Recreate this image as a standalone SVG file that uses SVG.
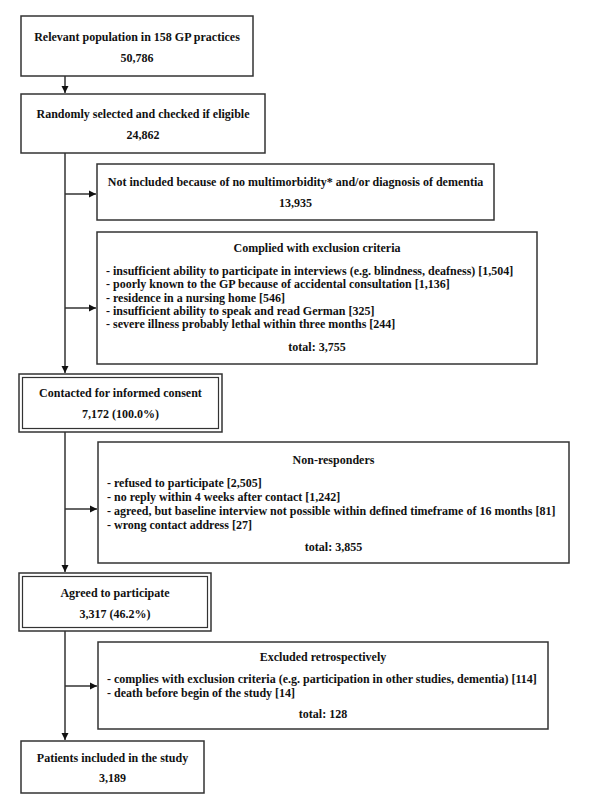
<svg xmlns="http://www.w3.org/2000/svg" width="600" height="804" viewBox="0 0 600 804">
<style>
  .box { fill: #fff; stroke: #333; stroke-width: 1.5; }
  .inner { fill: none; stroke: #333; stroke-width: 1.2; }
  .t { font-family: "Liberation Serif", "Times New Roman", serif; font-weight: bold; font-size: 12px; fill: #111; }
  .c { text-anchor: middle; }
  .edge { fill: none; stroke: #333; stroke-width: 1.5; }
</style>
<defs>
  <marker id="ah" markerWidth="8" markerHeight="8" refX="7" refY="4" orient="auto" markerUnits="userSpaceOnUse">
    <path d="M0,0.5 L7,4 L0,7.5 Z" fill="#111"/>
  </marker>
</defs>
<rect width="600" height="804" fill="#fff"/>

<g id="connectors">
  <line class="edge" x1="65" y1="76" x2="65" y2="93" marker-end="url(#ah)"/>
  <line class="edge" x1="65" y1="153" x2="65" y2="373" marker-end="url(#ah)"/>
  <line class="edge" x1="65" y1="194" x2="96" y2="194" marker-end="url(#ah)"/>
  <line class="edge" x1="65" y1="308" x2="96" y2="308" marker-end="url(#ah)"/>
  <line class="edge" x1="65" y1="432" x2="65" y2="572" marker-end="url(#ah)"/>
  <line class="edge" x1="65" y1="509" x2="97" y2="509" marker-end="url(#ah)"/>
  <line class="edge" x1="65" y1="631" x2="65" y2="740" marker-end="url(#ah)"/>
  <line class="edge" x1="65" y1="686" x2="97" y2="686" marker-end="url(#ah)"/>
</g>

<g id="n1">
  <rect class="box" x="21" y="16" width="232" height="60"/>
  <text class="t c" x="137" y="41">Relevant population in 158 GP practices</text>
  <text class="t c" x="137" y="62">50,786</text>
</g>

<g id="n2">
  <rect class="box" x="21" y="94" width="244" height="59"/>
  <text class="t c" x="143" y="118">Randomly selected and checked if eligible</text>
  <text class="t c" x="143" y="139">24,862</text>
</g>

<g id="n3">
  <rect class="box" x="97" y="164" width="397" height="56"/>
  <text class="t c" x="295.5" y="186">Not included because of no multimorbidity* and/or diagnosis of dementia</text>
  <text class="t c" x="295.5" y="207">13,935</text>
</g>

<g id="n4">
  <rect class="box" x="97" y="232" width="440" height="132"/>
  <text class="t c" x="317" y="252">Complied with exclusion criteria</text>
  <text class="t" x="106" y="275">- insufficient ability to participate in interviews (e.g. blindness, deafness) [1,504]</text>
  <text class="t" x="106" y="288">- poorly known to the GP because of accidental consultation [1,136]</text>
  <text class="t" x="106" y="302">- residence in a nursing home [546]</text>
  <text class="t" x="106" y="315">- insufficient ability to speak and read German [325]</text>
  <text class="t" x="106" y="328">- severe illness probably lethal within three months [244]</text>
  <text class="t c" x="317" y="351">total: 3,755</text>
</g>

<g id="n5">
  <rect class="box" x="19" y="374" width="203" height="58"/>
  <rect class="inner" x="22.5" y="377.5" width="196" height="51"/>
  <text class="t c" x="120.5" y="397">Contacted for informed consent</text>
  <text class="t c" x="120.5" y="418">7,172 (100.0%)</text>
</g>

<g id="n6">
  <rect class="box" x="98" y="442" width="471" height="121"/>
  <text class="t c" x="333.5" y="464">Non-responders</text>
  <text class="t" x="107" y="487">- refused to participate [2,505]</text>
  <text class="t" x="107" y="501">- no reply within 4 weeks after contact [1,242]</text>
  <text class="t" x="107" y="515">- agreed, but baseline interview not possible within defined timeframe of 16 months [81]</text>
  <text class="t" x="107" y="529">- wrong contact address [27]</text>
  <text class="t c" x="333.5" y="551">total: 3,855</text>
</g>

<g id="n7">
  <rect class="box" x="19" y="573" width="192" height="58"/>
  <rect class="inner" x="22.5" y="576.5" width="185" height="51"/>
  <text class="t c" x="115" y="597">Agreed to participate</text>
  <text class="t c" x="115" y="618">3,317 (46.2%)</text>
</g>

<g id="n8">
  <rect class="box" x="98" y="642" width="450" height="87"/>
  <text class="t c" x="323" y="661">Excluded retrospectively</text>
  <text class="t" x="107" y="683">- complies with exclusion criteria (e.g. participation in other studies, dementia) [114]</text>
  <text class="t" x="107" y="697">- death before begin of the study [14]</text>
  <text class="t c" x="323" y="718">total: 128</text>
</g>

<g id="n9">
  <rect class="box" x="21" y="741" width="183" height="52"/>
  <text class="t c" x="112.5" y="762">Patients included in the study</text>
  <text class="t c" x="112.5" y="782">3,189</text>
</g>
</svg>
